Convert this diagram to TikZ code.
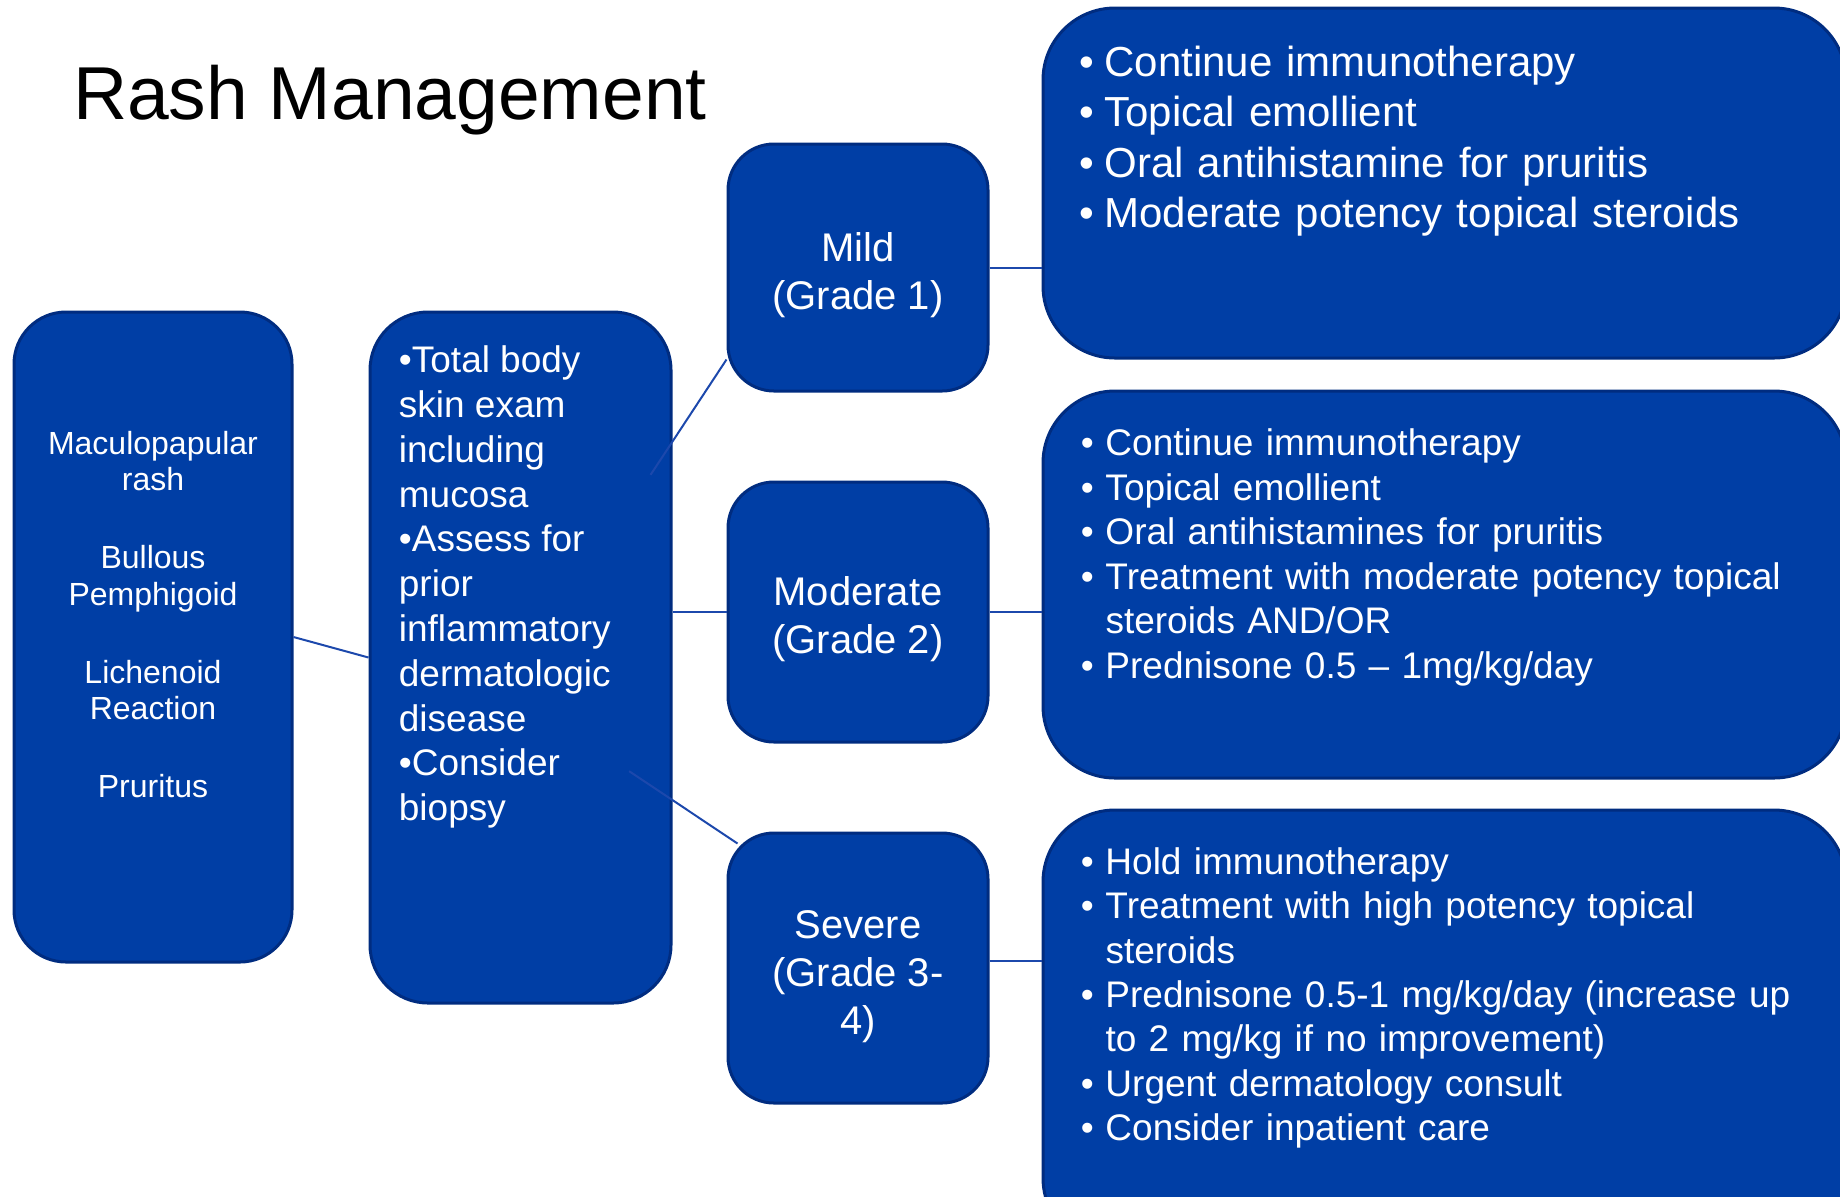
\documentclass[tikz,border=0pt]{standalone}
\usepackage{fontspec}
\setmainfont{Liberation Sans}
\usepackage{tikz}
\usetikzlibrary{positioning}
\definecolor{boxblue}{RGB}{0,62,165}
\definecolor{edgeblue}{RGB}{0,44,128}
\definecolor{lineblue}{RGB}{28,72,172}
\tikzstyle{block} = [rectangle, rounded corners=26pt, draw=edgeblue, line width=1.5pt, fill=boxblue, text=white, inner sep=0pt]
\tikzstyle{grade} = [block, rounded corners=23pt, minimum width=130pt]
\tikzstyle{gradetext} = [text=white, inner sep=0pt, align=center, font=\fontsize{20}{24}\selectfont]
\tikzstyle{treat} = [block, rounded corners=36pt, minimum width=401.5pt]
\tikzstyle{blocktext} = [text=white, inner sep=0pt, align=left, anchor=north west]
\tikzstyle{line} = [draw=lineblue, line width=1pt]
% one bullet point with hanging indent
\newcommand{\bul}[1]{\par\hangindent=12.3pt\hangafter=1\noindent\makebox[12.3pt][l]{\textbullet}#1}

\begin{document}
\begin{tikzpicture}[x=0.5pt, y=-0.5pt]
			\useasboundingbox (0,0) rectangle (1840,1196);
			% Place nodes
			\node [anchor=base west, font=\fontsize{37.5}{45}\selectfont] (title) at (66,119) {Rash Management};
			\node [block, minimum width=139pt, minimum height=325pt] (types) at (153,637) {};
			\node [blocktext, align=center, font=\fontsize{16}{18.3}\selectfont, below=60pt of types.north] (typelist) {Maculopapular\\rash\\[20.7pt]Bullous\\Pemphigoid\\[20.7pt]Lichenoid\\Reaction\\[20.7pt]Pruritus};
			\node [block, rounded corners=29pt, minimum width=150.5pt, minimum height=345.5pt] (exam) at (520.5,657.5) {};
			\node [blocktext, font=\fontsize{18.5}{22.4}\selectfont, below right=17.5pt and 15pt of exam.north west] (examlist) {•Total body\\skin exam\\including\\mucosa\\•Assess for\\prior\\inflammatory\\dermatologic\\disease\\•Consider\\biopsy};
			\node [grade, minimum height=123.5pt] (mild) at (858,267.5) {};
			\node [grade, minimum height=130pt] (moderate) at (858,612) {};
			\node [grade, minimum height=135pt] (severe) at (858,968) {};
			\node [gradetext] (mildname) at ([yshift=-4pt]mild.center) {Mild\\(Grade 1)};
			\node [gradetext] (moderatename) at ([yshift=-3.5pt]moderate.center) {Moderate\\(Grade 2)};
			\node [gradetext] (severename) at ([yshift=-4.5pt]severe.center) {Severe\\(Grade 3-\\4)};
			\node [treat, minimum height=175pt] (mildcare) at (1444.5,183) {};
			\node [treat, minimum height=193.5pt] (modcare) at (1444.5,584.5) {};
			\node [treat, minimum height=220pt] (sevcare) at (1444.5,1030) {};
			\node [blocktext, text width=380pt, font=\fontsize{21}{25.25}\selectfont, below right=9.5pt and 19pt of mildcare.north west] (mildlist) {\bul{Continue immunotherapy}\bul{Topical emollient}\bul{Oral antihistamine for pruritis}\bul{Moderate potency topical steroids}};
			\node [blocktext, text width=375pt, font=\fontsize{18.5}{22.3}\selectfont, below right=10.5pt and 19.5pt of modcare.north west] (modlist) {\bul{Continue immunotherapy}\bul{Topical emollient}\bul{Oral antihistamines for pruritis}\bul{Treatment with moderate potency topical\newline steroids AND/OR}\bul{Prednisone 0.5 – 1mg/kg/day}};
			\node [blocktext, text width=375pt, font=\fontsize{18.5}{22.2}\selectfont, below right=10.5pt and 19.5pt of sevcare.north west] (sevlist) {\bul{Hold immunotherapy}\bul{Treatment with high potency topical\newline steroids}\bul{Prednisone 0.5-1 mg/kg/day (increase up\newline to 2 mg/kg if no improvement)}\bul{Urgent dermatology consult}\bul{Consider inpatient care}};
			\coordinate (sevjoin) at ([yshift=3.5pt]severe.east);
			% Draw edges
			\path [line] (types.east) -- (exam.west);
			\path [line] ([xshift=-11pt,yshift=91.3pt]exam.east) -- ([yshift=16.5pt]mild.south west);
			\path [line] (exam.east |- moderate.west) -- (moderate.west);
			\path [line] ([xshift=-21.7pt,yshift=-56.8pt]exam.east) -- ([xshift=5.5pt,yshift=-6pt]severe.north west);
			\path [line] (mild.east) -- (mildcare.west |- mild.east);
			\path [line] (moderate.east) -- (modcare.west |- moderate.east);
			\path [line] (sevjoin) -- (sevcare.west |- sevjoin);
\end{tikzpicture}
\end{document}
